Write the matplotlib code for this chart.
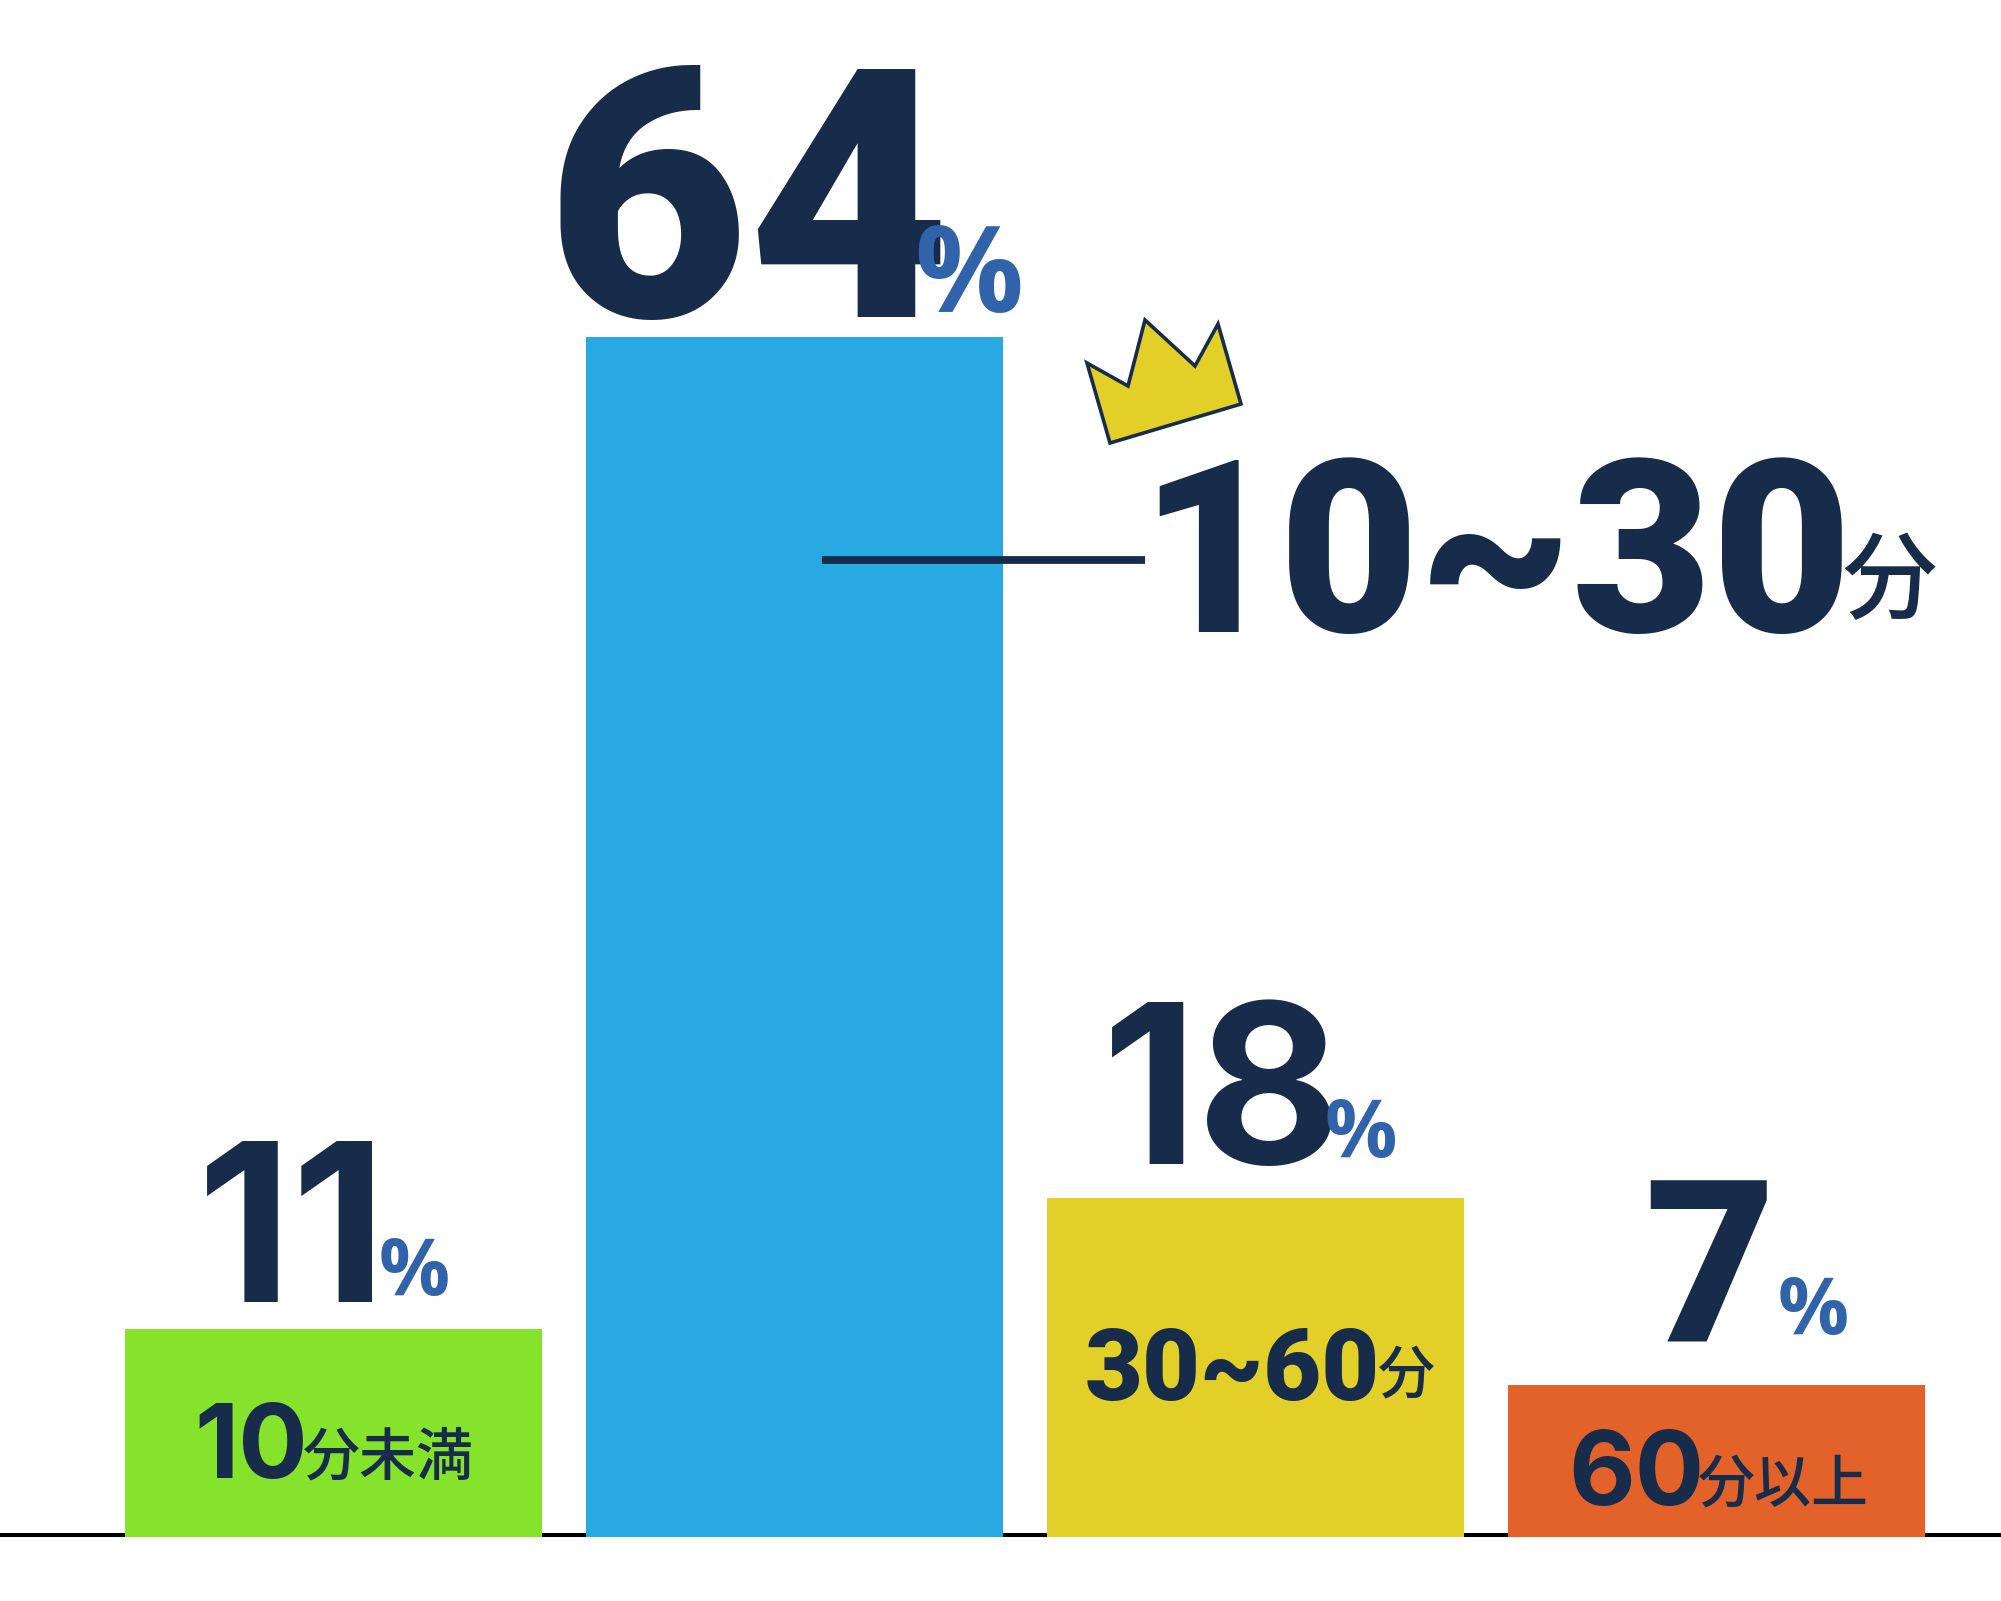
#!/usr/bin/env python
import matplotlib
matplotlib.use("Agg")
import matplotlib.pyplot as plt
from matplotlib.patches import Polygon
from matplotlib.transforms import Affine2D

W, H = 2001, 1601
NAVY = "#172C4A"
PCT_BLUE = "#3163AB"

categories = ["10分未満", "10~30分", "30~60分", "60分以上"]
bar_heights = [11.1, 64.0, 18.1, 8.1]  # as drawn; the last bar is taller than its label says
value_labels = ["11", "64", "18", "7"]
bar_colors = ["#86E32B", "#29A9E2", "#E2CF28", "#E2622A"]

DIGIT_FONT = ["Roboto", "Noto Sans CJK JP"]
NARROW_FONT = ["Inter", "Roboto"]
CJK_FONT = ["Noto Sans CJK JP", "DejaVu Sans"]


def main() -> None:
    fig = plt.figure(figsize=(W / 100, H / 100), dpi=100, facecolor="white")
    ax = fig.add_axes([0, 0, 1, 1])
    # 461 px between bars, bar 0 centred at 333.5, baseline at 1537, 18.75 px per unit
    ax.set_xlim(-333.5 / 461, (W - 333.5) / 461)
    ax.set_ylim(-(H - 1537) / 18.75, 1537 / 18.75)
    ax.axis("off")

    ax.axhline(0.1, color="black", lw=2.9, zorder=1)
    ax.bar(range(4), bar_heights, width=417 / 461, color=bar_colors, zorder=2)

    px = Affine2D().scale(1 / W, -1 / H).translate(0, 1) + fig.transFigure

    def put(s, x, y, size, color=NAVY, family=None, weight="black", ha="center"):
        ax.text(x, y, s, transform=px, fontsize=size, color=color, family=family or DIGIT_FONT,
                fontweight=weight, ha=ha, va="baseline", zorder=5)

    # value labels
    put(value_labels[0], 292, 1302, 159, family=NARROW_FONT, weight="bold")
    put(value_labels[1], 748, 317, 252)
    put(value_labels[2], 1222, 1164, 160, family=NARROW_FONT, weight="bold")
    put(value_labels[3], 1710, 1341, 163)

    # percent signs
    put("%", 414, 1295, 57, PCT_BLUE, ["Open Sans"], "bold")
    put("%", 969, 312, 87, PCT_BLUE, ["Open Sans"], "bold")
    put("%", 1361, 1157, 58, PCT_BLUE, ["Open Sans"], "bold")
    put("%", 1813, 1334, 57, PCT_BLUE, ["Open Sans"], "bold")

    # category labels inside the bars
    put("10", 251, 1478, 74, family=NARROW_FONT, weight="bold")
    put("分未満", 303, 1474, 41, family=CJK_FONT, weight="medium", ha="left")
    put("30~60", 1232, 1400, 72)
    put("分", 1378, 1392, 41, family=CJK_FONT, weight="medium", ha="left")
    put("60", 1636, 1505, 74, family=NARROW_FONT, weight="bold")
    put("分以上", 1698, 1501, 41, family=CJK_FONT, weight="medium", ha="left")

    # callout for the top bar
    ax.plot([822, 1145], [560, 560], color=NAVY, lw=5.6, solid_capstyle="butt",
            transform=px, zorder=4)
    put("10~30", 1496, 632, 174)
    put("分", 1842, 611, 68, family=CJK_FONT, weight="medium", ha="left")

    crown = [(1087, 363), (1128, 386), (1145, 320), (1195, 366),
             (1218, 324), (1241, 404), (1110, 443)]
    ax.add_patch(Polygon(crown, closed=True, facecolor="#E2CF28", edgecolor=NAVY, lw=2.6,
                         transform=px, zorder=4))

    fig.savefig("out.png", dpi=100)
    plt.close(fig)


if __name__ == "__main__":
    main()
